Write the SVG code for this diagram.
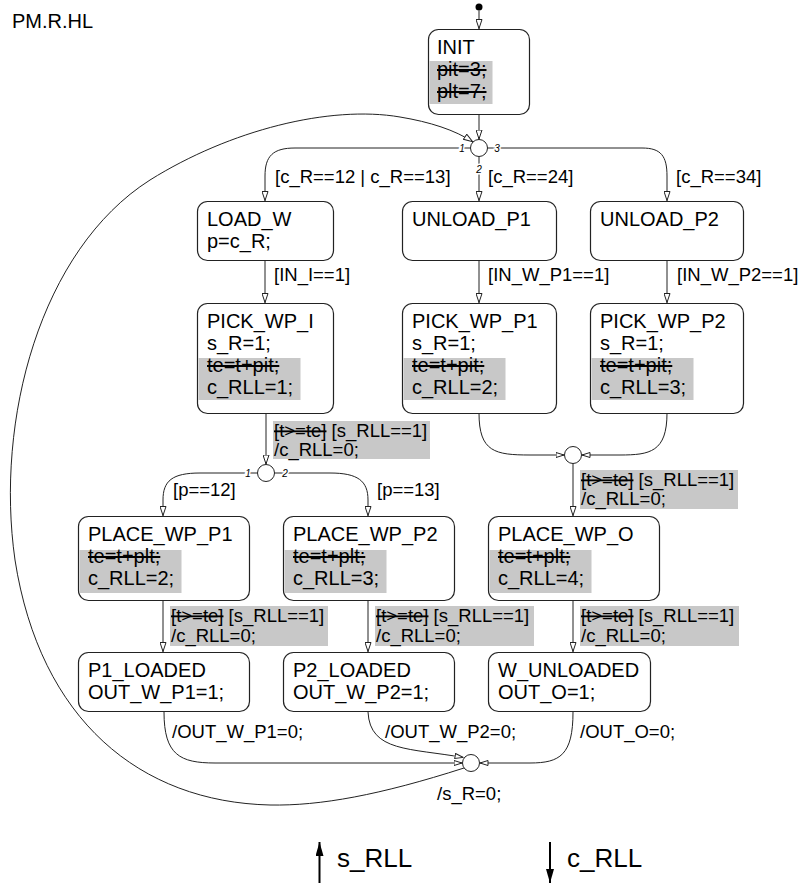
<svg xmlns="http://www.w3.org/2000/svg" width="800" height="887" viewBox="0 0 800 887">
<defs>
<marker id="oa" viewBox="0 0 10 7" refX="10" refY="3.5" markerWidth="10" markerHeight="7" markerUnits="userSpaceOnUse" orient="auto"><path d="M0.5,0.5 L9.5,3.5 L0.5,6.5 z" fill="#fff" stroke="#222" stroke-width="1"/></marker>
<marker id="os" viewBox="0 0 9 6" refX="9" refY="3" markerWidth="9" markerHeight="6" markerUnits="userSpaceOnUse" orient="auto"><path d="M0.5,0.5 L8.5,3 L0.5,5.5 z" fill="#fff" stroke="#222" stroke-width="1"/></marker>
<marker id="fa" viewBox="0 0 14 8" refX="14" refY="4" markerWidth="14" markerHeight="8" markerUnits="userSpaceOnUse" orient="auto"><path d="M0,0 L14,4 L0,8 z" fill="#000"/></marker>
</defs>
<style>
.st{fill:#fff;stroke:#222;stroke-width:1.2}
.t{font-family:"Liberation Sans",Arial,sans-serif;font-size:20px;fill:#000}
.l{font-family:"Liberation Sans",Arial,sans-serif;font-size:18.5px;fill:#000}
.g{font-family:"Liberation Sans",Arial,sans-serif;font-size:26px;fill:#000}
.hl{fill:#c8c8c8}
.e{fill:none;stroke:#222;stroke-width:1}
.j{fill:#fff;stroke:#222;stroke-width:1}
.n{font-family:"Liberation Sans",Arial,sans-serif;font-size:10px;font-style:italic;fill:#000;stroke:#fff;stroke-width:3;paint-order:stroke;text-anchor:middle}
.x{text-decoration:line-through}
</style>
<rect width="800" height="887" fill="#fff"/>
<text class="t" x="12" y="28">PM.R.HL</text>

<g id="connectors">
<circle cx="479" cy="7" r="3.5" fill="#000"/>
<path class="e" d="M479,10.5 L479,29" marker-end="url(#oa)"/>
<path class="e" d="M479,114 L479,139.5" marker-end="url(#oa)"/>
<path class="e" d="M470.5,148 L295,148 C273,148 265,156 265,176 L265,201" marker-end="url(#oa)"/>
<path class="e" d="M479,156.5 L479,201" marker-end="url(#oa)"/>
<path class="e" d="M487.5,148 L642,148 C661,148 667,156 667,176 L667,201" marker-end="url(#oa)"/>
<path class="e" d="M265,260 L265,303" marker-end="url(#oa)"/>
<path class="e" d="M479,260 L479,303" marker-end="url(#oa)"/>
<path class="e" d="M667,260 L667,303" marker-end="url(#oa)"/>
<path class="e" d="M266,413 L266,464.5" marker-end="url(#oa)"/>
<path class="e" d="M257.5,473 L200,473 C172,473 163,481 163,500 L163,516" marker-end="url(#oa)"/>
<path class="e" d="M274.5,473 L330,473 C358,473 368,481 368,500 L368,516" marker-end="url(#oa)"/>
<path class="e" d="M479,413 C479,452 495,455 530,455 L564.5,455" marker-end="url(#os)"/>
<path class="e" d="M667,413 C667,452 650,455 620,455 L581.5,455" marker-end="url(#os)"/>
<path class="e" d="M573,463.5 L573,516" marker-end="url(#oa)"/>
<path class="e" d="M163,600 L163,652" marker-end="url(#oa)"/>
<path class="e" d="M368,600 L368,652" marker-end="url(#oa)"/>
<path class="e" d="M573,600 L573,652" marker-end="url(#oa)"/>
<path class="e" d="M164,712 C164,755 180,763 215,763 L462.5,763" marker-end="url(#os)"/>
<path class="e" d="M368,712 C370,752 410,748 463.5,757.5" marker-end="url(#os)"/>
<path class="e" d="M573,712 C573,755 560,763 530,763 L479.5,763" marker-end="url(#os)"/>
<path class="e" d="M464,768 C380,795 320,806 270,805 C140,802 40,720 15,560 C-5,420 40,250 150,180 C230,130 330,105 400,117 C430,122 455,130 473,142" marker-end="url(#oa)"/>

<rect class="hl" x="273" y="421" width="157" height="38"/>
<rect class="hl" x="580" y="470" width="158" height="39"/>
<rect class="hl" x="170" y="606" width="158" height="40"/>
<rect class="hl" x="375" y="606" width="159" height="40"/>
<rect class="hl" x="580" y="606" width="159" height="40"/>

<text class="l" x="275" y="183">[c_R==12 | c_R==13]</text>
<text class="l" x="488" y="183">[c_R==24]</text>
<text class="l" x="676" y="183">[c_R==34]</text>
<text class="l" x="274" y="281">[IN_I==1]</text>
<text class="l" x="488" y="281">[IN_W_P1==1]</text>
<text class="l" x="677" y="281">[IN_W_P2==1]</text>
<text class="l" x="274" y="437"><tspan class="x">[t&gt;=te]</tspan> [s_RLL==1]</text>
<text class="l" x="274" y="456">/c_RLL=0;</text>
<text class="l" x="173" y="496">[p==12]</text>
<text class="l" x="377" y="496">[p==13]</text>
<text class="l" x="581" y="486"><tspan class="x">[t&gt;=te]</tspan> [s_RLL==1]</text>
<text class="l" x="581" y="505">/c_RLL=0;</text>
<text class="l" x="171" y="622"><tspan class="x">[t&gt;=te]</tspan> [s_RLL==1]</text>
<text class="l" x="171" y="642">/c_RLL=0;</text>
<text class="l" x="376" y="622"><tspan class="x">[t&gt;=te]</tspan> [s_RLL==1]</text>
<text class="l" x="376" y="642">/c_RLL=0;</text>
<text class="l" x="581" y="622"><tspan class="x">[t&gt;=te]</tspan> [s_RLL==1]</text>
<text class="l" x="581" y="642">/c_RLL=0;</text>
<text class="l" x="172" y="738">/OUT_W_P1=0;</text>
<text class="l" x="385" y="738">/OUT_W_P2=0;</text>
<text class="l" x="580" y="738">/OUT_O=0;</text>
<text class="l" x="437" y="800">/s_R=0;</text>
</g>

<g id="J1"><circle class="j" cx="479" cy="148" r="8.5"/>
<text class="n" x="462" y="152">1</text><text class="n" x="497" y="152">3</text><text class="n" x="479" y="173">2</text></g>
<g id="J2"><circle class="j" cx="266" cy="473" r="8.5"/>
<text class="n" x="248" y="477">1</text><text class="n" x="285" y="477">2</text></g>
<g id="J3"><circle class="j" cx="573" cy="455" r="8.5"/></g>
<g id="J4"><circle class="j" cx="471" cy="763" r="8.5"/></g>

<g id="INIT"><rect class="st" x="428.5" y="29.5" width="101" height="85" rx="10"/>
<rect class="hl" x="429.5" y="61" width="63" height="43"/>
<text class="t" x="437" y="54">INIT</text>
<text class="t x" x="437" y="76">pit=3;</text>
<text class="t x" x="437" y="98">plt=7;</text></g>

<g id="LOAD_W"><rect class="st" x="197.5" y="201.5" width="136" height="59" rx="10"/>
<text class="t" x="207" y="226">LOAD_W</text><text class="t" x="207" y="248">p=c_R;</text></g>
<g id="UNLOAD_P1"><rect class="st" x="402.5" y="201.5" width="154" height="59" rx="10"/>
<text class="t" x="412" y="226">UNLOAD_P1</text></g>
<g id="UNLOAD_P2"><rect class="st" x="590.5" y="201.5" width="153" height="59" rx="10"/>
<text class="t" x="600" y="226">UNLOAD_P2</text></g>

<g id="PICK_WP_I"><rect class="st" x="197.5" y="303.5" width="136" height="110" rx="10"/>
<rect class="hl" x="198.5" y="358" width="102" height="42"/>
<text class="t" x="207" y="328">PICK_WP_I</text><text class="t" x="207" y="350">s_R=1;</text>
<text class="t x" x="207" y="372">te=t+pit;</text><text class="t" x="207" y="394">c_RLL=1;</text></g>
<g id="PICK_WP_P1"><rect class="st" x="402.5" y="303.5" width="154" height="110" rx="10"/>
<rect class="hl" x="403.5" y="358" width="102" height="42"/>
<text class="t" x="412" y="328">PICK_WP_P1</text><text class="t" x="412" y="350">s_R=1;</text>
<text class="t x" x="412" y="372">te=t+pit;</text><text class="t" x="412" y="394">c_RLL=2;</text></g>
<g id="PICK_WP_P2"><rect class="st" x="590.5" y="303.5" width="153" height="110" rx="10"/>
<rect class="hl" x="591.5" y="358" width="102" height="42"/>
<text class="t" x="600" y="328">PICK_WP_P2</text><text class="t" x="600" y="350">s_R=1;</text>
<text class="t x" x="600" y="372">te=t+pit;</text><text class="t" x="600" y="394">c_RLL=3;</text></g>

<g id="PLACE_WP_P1"><rect class="st" x="78.5" y="516.5" width="171" height="84" rx="10"/>
<rect class="hl" x="79.5" y="550" width="102" height="43"/>
<text class="t" x="88" y="541">PLACE_WP_P1</text><text class="t x" x="88" y="563">te=t+plt;</text><text class="t" x="88" y="585">c_RLL=2;</text></g>
<g id="PLACE_WP_P2"><rect class="st" x="283.5" y="516.5" width="171" height="84" rx="10"/>
<rect class="hl" x="284.5" y="550" width="102" height="43"/>
<text class="t" x="293" y="541">PLACE_WP_P2</text><text class="t x" x="293" y="563">te=t+plt;</text><text class="t" x="293" y="585">c_RLL=3;</text></g>
<g id="PLACE_WP_O"><rect class="st" x="488.5" y="516.5" width="171" height="84" rx="10"/>
<rect class="hl" x="489.5" y="550" width="102" height="43"/>
<text class="t" x="498" y="541">PLACE_WP_O</text><text class="t x" x="498" y="563">te=t+plt;</text><text class="t" x="498" y="585">c_RLL=4;</text></g>

<g id="P1_LOADED"><rect class="st" x="78.5" y="652.5" width="171" height="59" rx="10"/>
<text class="t" x="88" y="677">P1_LOADED</text><text class="t" x="88" y="699">OUT_W_P1=1;</text></g>
<g id="P2_LOADED"><rect class="st" x="283.5" y="652.5" width="171" height="59" rx="10"/>
<text class="t" x="293" y="677">P2_LOADED</text><text class="t" x="293" y="699">OUT_W_P2=1;</text></g>
<g id="W_UNLOADED"><rect class="st" x="488.5" y="652.5" width="162" height="59" rx="10"/>
<text class="t" x="498" y="677">W_UNLOADED</text><text class="t" x="498" y="699">OUT_O=1;</text></g>

<g id="legend">
<path d="M319.5,883 L319.5,842" stroke="#000" stroke-width="2" marker-end="url(#fa)"/>
<text class="g" x="337" y="867">s_RLL</text>
<path d="M550,842 L550,883" stroke="#000" stroke-width="2" marker-end="url(#fa)"/>
<text class="g" x="567" y="867">c_RLL</text>
</g>
</svg>
